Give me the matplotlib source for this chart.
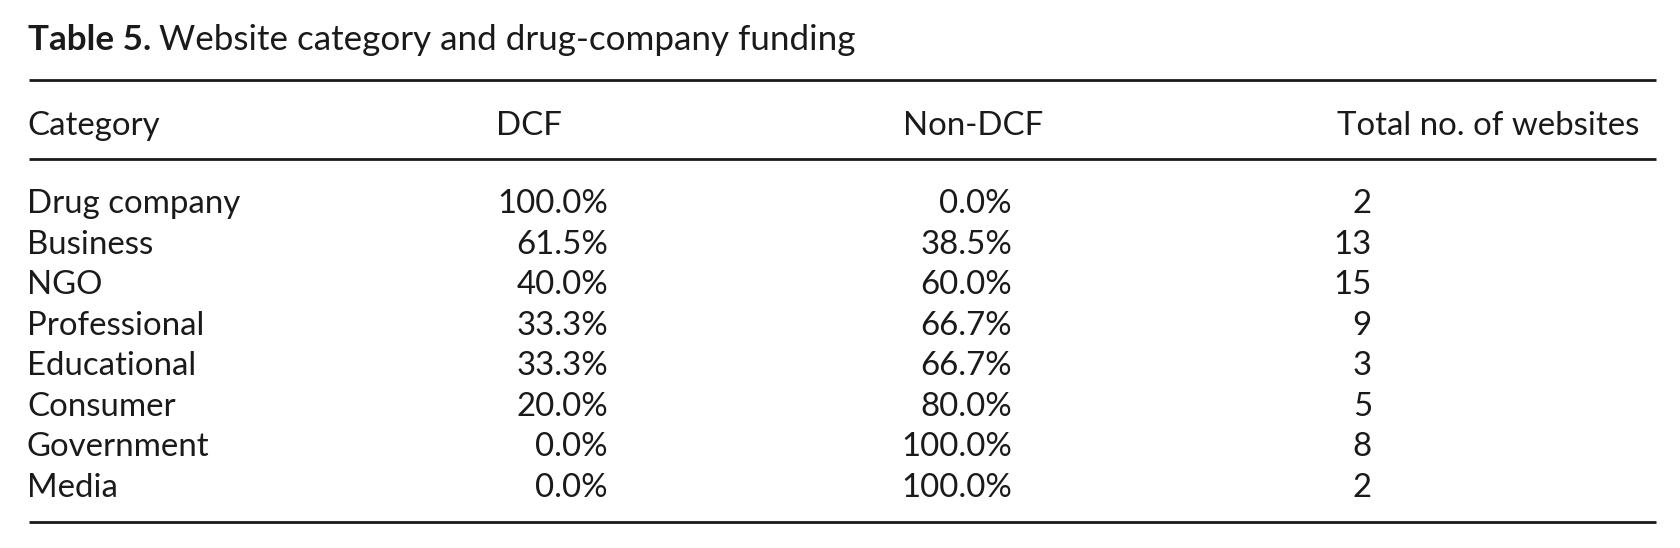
import matplotlib
matplotlib.use("Agg")
import matplotlib.pyplot as plt

plt.rcParams['font.family'] = ['Lato', 'DejaVu Sans']

title_bold = "Table 5."
title_text = "Website category and drug-company funding"
headers = ["Category", "DCF", "Non-DCF", "Total no. of websites"]
categories = ["Drug company", "Business", "NGO", "Professional",
              "Educational", "Consumer", "Government", "Media"]
dcf = [100.0, 61.5, 40.0, 33.3, 33.3, 20.0, 0.0, 0.0]
non_dcf = [0.0, 38.5, 60.0, 66.7, 66.7, 80.0, 100.0, 100.0]
totals = [2, 13, 15, 9, 3, 5, 8, 2]

W, H = 1681, 548
ink = "#1a1a1a"
fs = 23.8
fs_title = 25.2

fig = plt.figure(figsize=(W / 100, H / 100), dpi=100)
ax = fig.add_axes([0, 0, 1, 1])
ax.set_xlim(0, W)
ax.set_ylim(H, 0)
ax.axis("off")

# title: bold label then regular text right after it
t = ax.text(28, 50, title_bold, fontsize=fs_title, fontweight="bold",
            color=ink, va="baseline", ha="left")
fig.canvas.draw()
bb = t.get_window_extent()
x_end = ax.transData.inverted().transform((bb.x1, 0))[0]
ax.text(x_end + 8, 50, title_text, fontsize=fs_title, color=ink,
        va="baseline", ha="left")

# rules
for y in (80, 159, 522):
    ax.plot([29, 1656], [y, y], color=ink, lw=2.0, solid_capstyle="butt")

# header
head_x = [27, 496, 903, 1337]
for x, h in zip(head_x, headers):
    ax.text(x, 135, h, fontsize=fs, color=ink, va="baseline", ha="left")

# rows
row_y0, row_step = 213.3, 40.5
for i, cat in enumerate(categories):
    y = row_y0 + i * row_step
    ax.text(27, y, cat, fontsize=fs, color=ink, va="baseline", ha="left")
    ax.text(608, y, "%.1f%%" % dcf[i], fontsize=fs, color=ink,
            va="baseline", ha="right")
    ax.text(1012, y, "%.1f%%" % non_dcf[i], fontsize=fs, color=ink,
            va="baseline", ha="right")
    ax.text(1372, y, str(totals[i]), fontsize=fs, color=ink,
            va="baseline", ha="right")

fig.savefig("out.png", dpi=100, facecolor="white")
